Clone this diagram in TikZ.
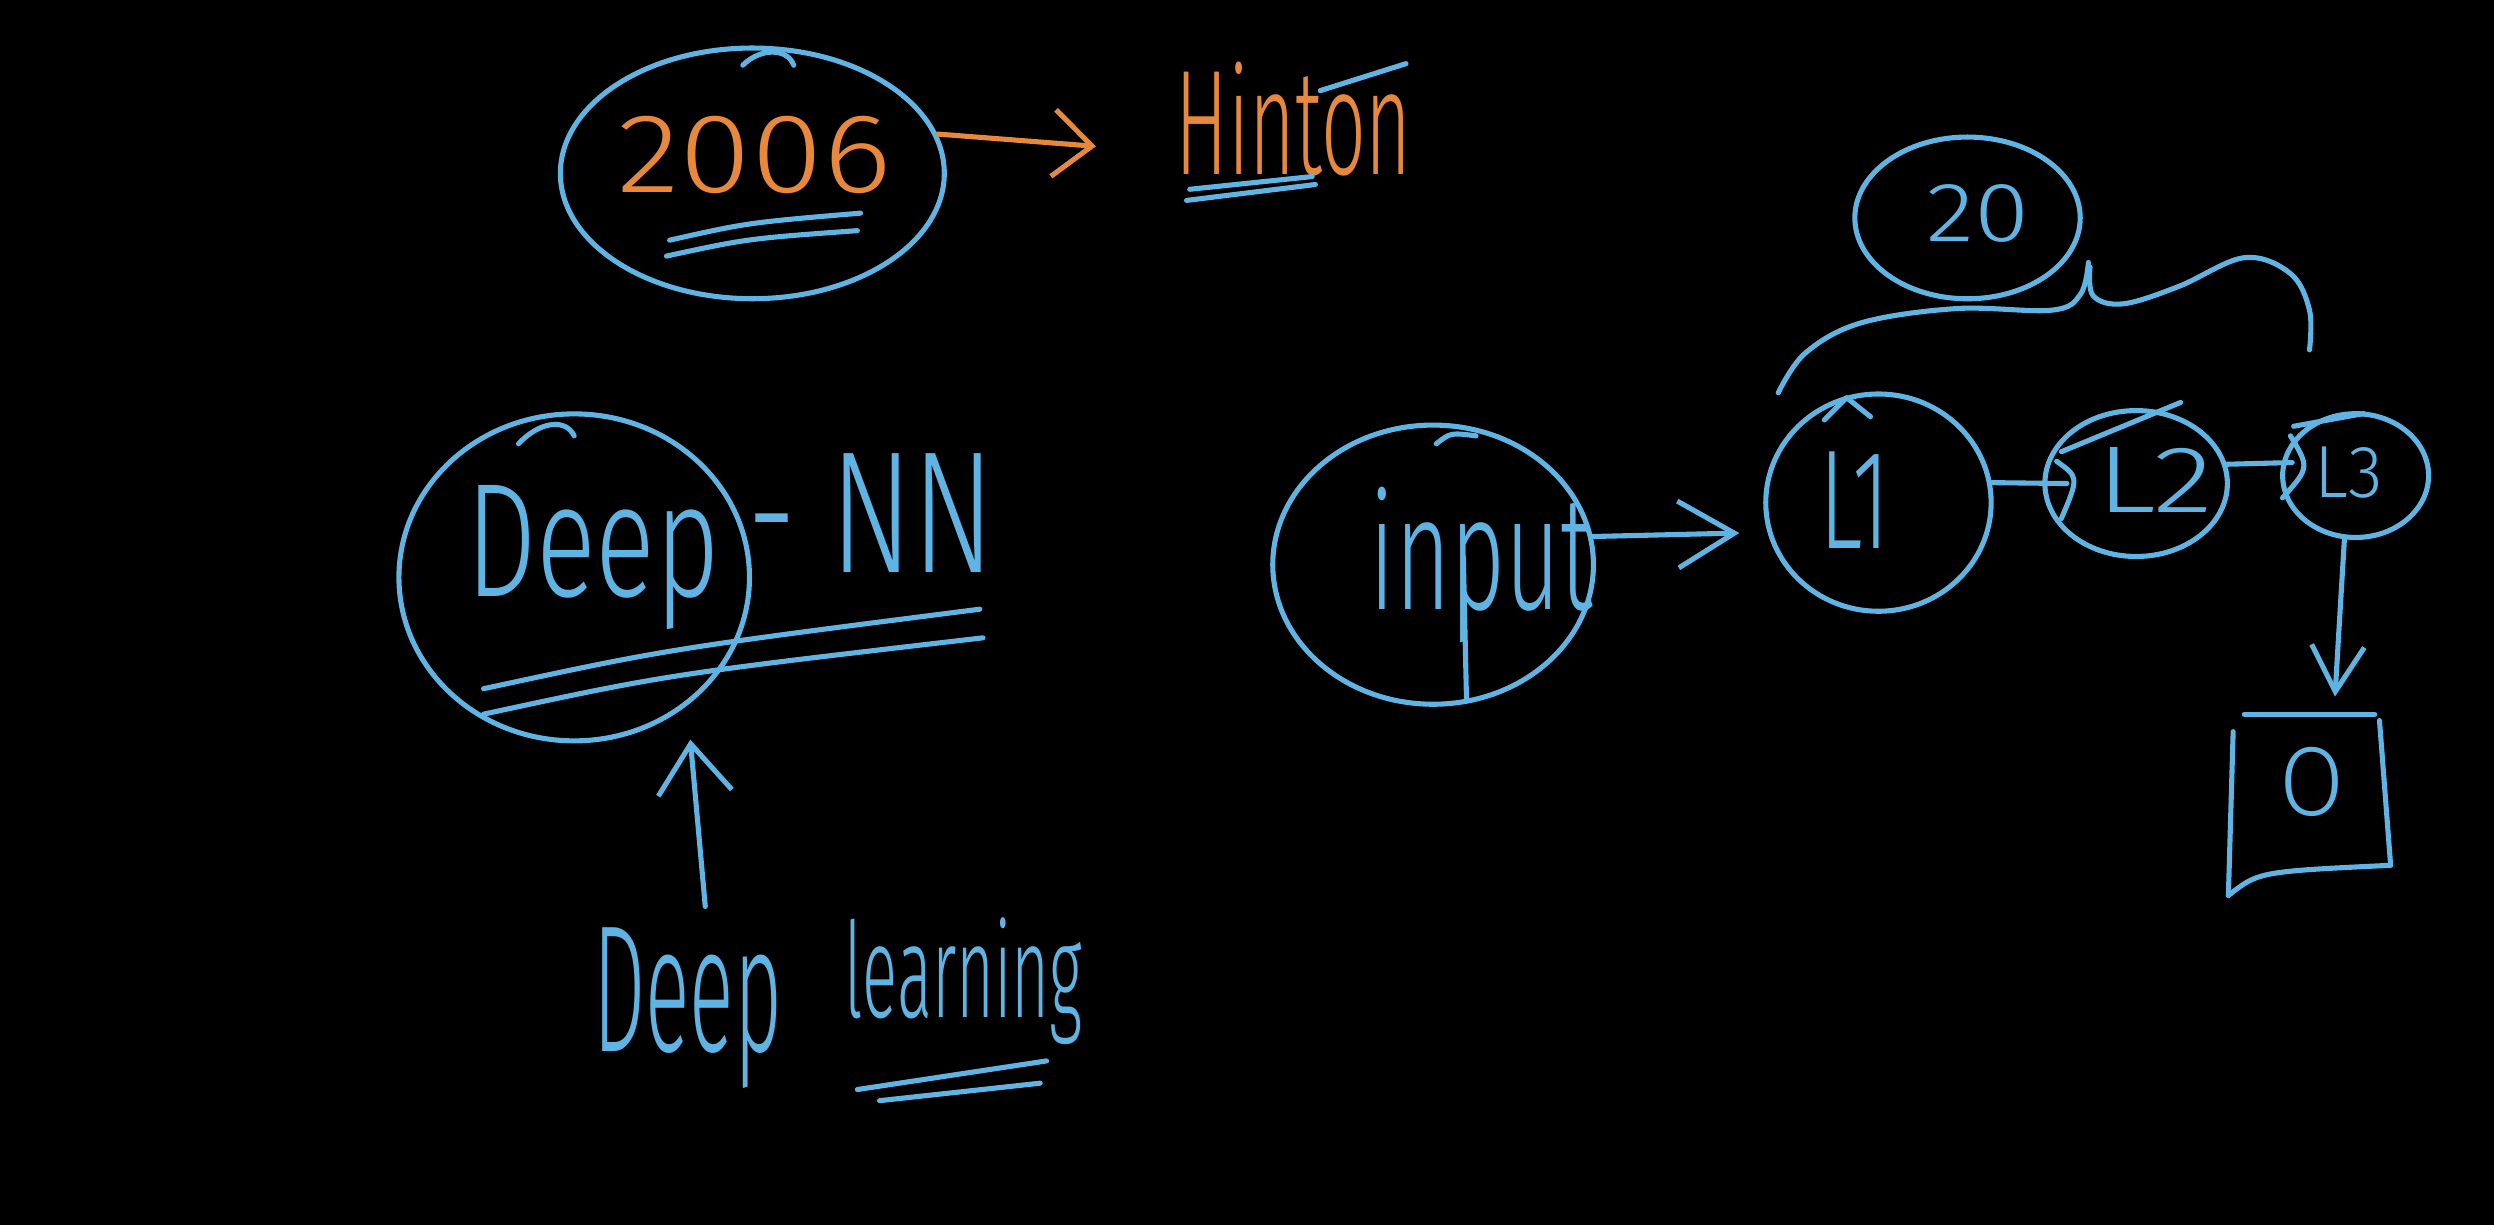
\documentclass[tikz,border=0pt]{standalone}
\usepackage{graphicx}
\usepackage{fontspec}
\setmainfont{Fira Sans Light}
\usetikzlibrary{arrows.meta,shapes.geometric}
\definecolor{hblue}{RGB}{95,180,228}
\definecolor{horange}{RGB}{232,136,60}
\newcommand{\fitto}[3]{\resizebox{#1}{#2}{#3}}
\begin{document}
\begin{tikzpicture}[x=0.015906cm,y=-0.015906cm,
  ink/.style={draw=hblue,line width=1.45pt,line cap=round,line join=round},
  oink/.style={draw=horange,line width=1.45pt,line cap=round,line join=round},
  ring/.style={ellipse,draw=hblue,line width=1.45pt,inner sep=0pt},
  lbl/.style={inner sep=0pt,outer sep=0pt,anchor=base west,text=hblue},
  olbl/.style={lbl,text=horange}]
\path[use as bounding box,fill=black] (0,0) rectangle (1568,770);

% rings
\node[ring,minimum width=109.2pt,minimum height=71.3pt] (c2006) at (473,109) {};
\node[ring,minimum width=99.7pt,minimum height=93pt] (cdeep) at (361,363) {};
\node[ring,minimum width=91.2pt,minimum height=79.4pt] (cinput) at (901,355) {};
\node[ring,minimum width=64.1pt,minimum height=61.8pt] (cL1) at (1181,316) {};
\node[ring,minimum width=51.9pt,minimum height=41.5pt] (cL2) at (1343,304) {};
\node[ring,minimum width=41.5pt,minimum height=35.2pt] (cL3) at (1481,299) {};
\node[ring,minimum width=64.1pt,minimum height=46pt] (c20) at (1237,137) {};

% texts
\node[olbl] (t2006) at (388,121) {\fitto{78pt}{21.7pt}{2006}};
\node[olbl] (tHinton) at (739,110) {\fitto{67.2pt}{32pt}{Hinton}};
\node[lbl] (tDeep) at (293,375) {\fitto{72.2pt}{31.6pt}{Deep}};
\node[lbl] (tNN) at (470,360) {\fitto{70.4pt}{33.8pt}{- NN}};
\node[lbl] (tDeepL) at (373,661) {\fitto{53.7pt}{35.2pt}{Deep}};
\node[lbl] (tLearning) at (531,640) {\fitto{67.7pt}{28.4pt}{learning}};
\node[lbl] (tinput) at (861,383) {\fitto{63.6pt}{34.8pt}{input}};
\node[lbl] (tL1) at (1144,345) {\fitto{19.9pt}{27.5pt}{L1}};
\node[lbl] (tL2) at (1318,322) {\fitto{33.4pt}{18.5pt}{L2}};
\node[lbl] (tL3) at (1455,313) {\fitto{19.4pt}{14.4pt}{L3}};
\node[lbl] (t20) at (1211,152) {\fitto{29.3pt}{16.2pt}{20}};
\node[lbl] (tO) at (1433,513) {\fitto{18.5pt}{19.4pt}{O}};

% underlines
\draw[ink] (421,151) .. controls (470,140) .. (541,134);
\draw[ink] (419,161) .. controls (470,150) .. (539,145);
\draw[ink] (748,119) -- (825,111);
\draw[ink] (746,126) -- (827,116);
\draw[ink] (830,57) -- (884,40);
\draw[ink] (304,433) .. controls (420,408) .. (616,383);
\draw[ink] (304,449) .. controls (420,424) .. (618,401);
\draw[ink] (539,685) -- (658,667);
\draw[ink] (553,692) -- (654,681);

% strokes
\draw[ink] (920,350) -- (922,440);
\draw[ink] (467,41) .. controls (478,30) and (495,30) .. (499,41);
\draw[ink] (326,279) .. controls (338,266) and (355,262) .. (361,274);
\draw[ink] (903,279) .. controls (912,272) .. (928,274);
\draw[ink] (1147,264) -- (1161,250) -- (1176,262);
\draw[ink] (1293,290) .. controls (1307,300) .. (1296,326);
\draw[ink] (1296,284) -- (1371,253);
\draw[ink] (1440,274) .. controls (1452,294) .. (1435,313);
\draw[ink] (1442,268) -- (1486,260);

% brace
\draw[ink] plot[smooth,tension=0.6] coordinates {(1118,247) (1135,222) (1170,203) (1230,194) (1290,195) (1308,185) (1313,165)};
\draw[ink] plot[smooth,tension=0.6] coordinates {(1314,168) (1316,186) (1335,191) (1370,180) (1411,162) (1440,172) (1452,195) (1452,220)};

% output box
\draw[ink] (1411,449) -- (1493,449);
\draw[ink] (1404,460) -- (1401,563);
\draw[ink] (1401,563) .. controls (1420,548) .. (1503,544);
\draw[ink] (1496,453) -- (1503,544);

% connectors
\coordinate (hTip) at (689,92);
\draw[oink,-{Straight Barb[length=11pt,width=19pt]}] (c2006.12) -- (hTip);
\coordinate (dlTip) at (434,465);
\draw[ink,-{Straight Barb[length=14pt,width=21pt]}] ([shift={(5pt,6pt)}]tDeepL.north) -- (dlTip);
\draw[ink,-{Straight Barb[length=16pt,width=19pt]},shorten >=8pt] (cinput.10) -- (cL1.195);
\draw[ink] (cL1.10) -- ([xshift=7pt]cL2.west);
\draw[ink] (cL2.12) -- ([xshift=3pt]cL3.170);
\coordinate (oTip) at (1468,438);
\draw[ink,-{Straight Barb[length=13pt,width=15pt]}] (cL3.-100) -- (oTip);
\end{tikzpicture}
\end{document}
